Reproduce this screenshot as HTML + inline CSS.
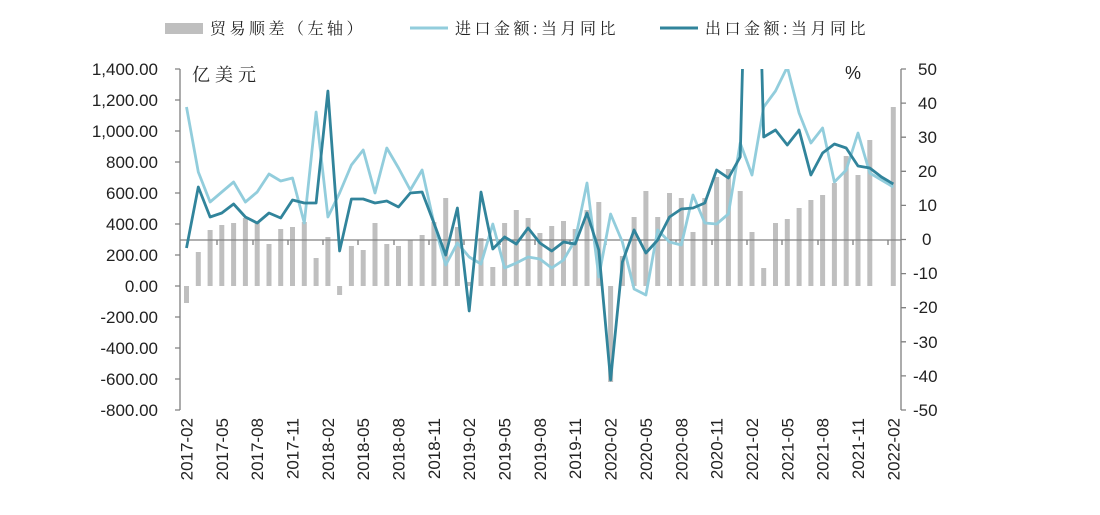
<!DOCTYPE html>
<html><head><meta charset="utf-8"><style>
body{margin:0;background:#fff;}
svg{display:block;font-family:"Liberation Sans","Noto Sans CJK SC",sans-serif;}
.cj{font-family:"Liberation Sans","Noto Serif CJK SC",serif;}
</style></head><body>
<svg width="1100" height="515" viewBox="0 0 1100 515">
<defs><clipPath id="c"><rect x="180" y="69" width="721" height="341"/></clipPath></defs>
<!-- legend -->
<rect x="165" y="23" width="38" height="11" fill="#bfbfbf"/>
<text class="cj" x="210" y="34" font-size="16" letter-spacing="3.5" fill="#222">贸易顺差（左轴）</text>
<line x1="410" y1="28" x2="448" y2="28" stroke="#92cddc" stroke-width="3"/>
<text class="cj" x="455" y="34" font-size="16" letter-spacing="3.5" fill="#222">进口金额:当月同比</text>
<line x1="660" y1="28" x2="698" y2="28" stroke="#31849b" stroke-width="3"/>
<text class="cj" x="705" y="34" font-size="16" letter-spacing="3.5" fill="#222">出口金额:当月同比</text>
<text class="cj" x="192" y="81" font-size="18" letter-spacing="5" fill="#222">亿美元</text>
<text x="845" y="79" font-size="18" fill="#222">%</text>
<!-- bars -->
<g fill="#bfbfbf">
<rect x="184" y="286" width="5" height="17"/><rect x="195.8" y="252" width="5" height="34"/><rect x="207.6" y="230" width="5" height="56"/><rect x="219.3" y="225" width="5" height="61"/><rect x="231.1" y="223" width="5" height="63"/><rect x="242.9" y="218" width="5" height="68"/><rect x="254.7" y="223" width="5" height="63"/><rect x="266.5" y="244" width="5" height="42"/><rect x="278.2" y="229" width="5" height="57"/><rect x="290" y="227" width="5" height="59"/><rect x="301.8" y="222" width="5" height="64"/><rect x="313.6" y="258" width="5" height="28"/><rect x="325.4" y="237" width="5" height="49"/><rect x="337.1" y="286" width="5" height="9"/><rect x="348.9" y="246" width="5" height="40"/><rect x="360.7" y="250" width="5" height="36"/><rect x="372.5" y="223" width="5" height="63"/><rect x="384.3" y="244" width="5" height="42"/><rect x="396" y="246" width="5" height="40"/><rect x="407.8" y="240" width="5" height="46"/><rect x="419.6" y="235" width="5" height="51"/><rect x="431.4" y="222" width="5" height="64"/><rect x="443.2" y="198" width="5" height="88"/><rect x="454.9" y="227" width="5" height="59"/><rect x="466.7" y="282" width="5" height="4"/><rect x="478.5" y="238" width="5" height="48"/><rect x="490.3" y="267" width="5" height="19"/><rect x="502.1" y="223" width="5" height="63"/><rect x="513.8" y="210" width="5" height="76"/><rect x="525.6" y="218" width="5" height="68"/><rect x="537.4" y="233" width="5" height="53"/><rect x="549.2" y="226" width="5" height="60"/><rect x="561" y="221" width="5" height="65"/><rect x="572.7" y="229" width="5" height="57"/><rect x="584.5" y="210" width="5" height="76"/><rect x="596.3" y="202" width="5" height="84"/><rect x="608.1" y="286" width="5" height="96"/><rect x="619.9" y="256" width="5" height="30"/><rect x="631.6" y="217" width="5" height="69"/><rect x="643.4" y="191" width="5" height="95"/><rect x="655.2" y="217" width="5" height="69"/><rect x="667" y="193" width="5" height="93"/><rect x="678.8" y="198" width="5" height="88"/><rect x="690.5" y="232" width="5" height="54"/><rect x="702.3" y="198" width="5" height="88"/><rect x="714.1" y="177" width="5" height="109"/><rect x="725.9" y="169" width="5" height="117"/><rect x="737.7" y="191" width="5" height="95"/><rect x="749.5" y="232" width="5" height="54"/><rect x="761.2" y="268" width="5" height="18"/><rect x="773" y="223" width="5" height="63"/><rect x="784.8" y="219" width="5" height="67"/><rect x="796.6" y="208" width="5" height="78"/><rect x="808.4" y="200" width="5" height="86"/><rect x="820.1" y="195" width="5" height="91"/><rect x="831.9" y="183" width="5" height="103"/><rect x="843.7" y="156" width="5" height="130"/><rect x="855.5" y="175" width="5" height="111"/><rect x="867.3" y="140" width="5" height="146"/><rect x="890.8" y="107" width="5" height="179"/>
</g>
<!-- axes -->
<g stroke="#808080" stroke-width="1.3" fill="none">
<line x1="180" y1="69" x2="180" y2="410"/>
<line x1="901" y1="69" x2="901" y2="410"/>
<line x1="180" y1="240" x2="901" y2="240"/>
<path d="M175 69H180M175 100H180M175 131H180M175 162H180M175 193H180M175 224H180M175 255H180M175 286H180M175 317H180M175 348H180M175 379H180M175 410H180"/>
<path d="M901 69H906M901 103.1H906M901 137.2H906M901 171.3H906M901 205.4H906M901 239.5H906M901 273.6H906M901 307.7H906M901 341.8H906M901 375.9H906M901 410H906"/>
<path d="M217 240V245M253 240V245M288 240V245M323 240V245M358 240V245M394 240V245M429 240V245M464 240V245M500 240V245M535 240V245M570 240V245M606 240V245M641 240V245M676 240V245M712 240V245M747 240V245M782 240V245M818 240V245M853 240V245M888 240V245"/>
</g>
<!-- lines -->
<g clip-path="url(#c)" fill="none" stroke-width="2.8" stroke-linejoin="round">
<polyline stroke="#92cddc" points="186.5,107 198.3,172 210.1,202 221.8,192 233.6,182 245.4,202 257.2,192 269,174 280.7,181 292.5,178 304.3,223 316.1,112 327.9,217 339.6,193 351.4,165 363.2,150 375,193 386.8,148 398.5,168 410.3,190 422.1,170 433.9,223 445.7,265 457.4,243 469.2,257 481,264 492.8,224 504.6,268 516.3,263 528.1,257 539.9,259 551.7,268 563.5,260 575.2,240 587,183 598.8,277 610.6,214 622.4,242 634.1,289 645.9,295 657.7,230 669.5,242 681.3,245 693,195 704.8,223 716.6,224 728.4,214 740.2,143 752,175 763.7,107 775.5,91 787.3,67 799.1,113 810.9,143 822.6,128 834.4,182 846.2,170 858,133 869.8,173 881.5,180 893.3,187"/>
<polyline stroke="#31849b" points="186.5,248 198.3,187 210.1,217 221.8,213 233.6,204 245.4,217 257.2,223 269,213 280.7,218 292.5,200 304.3,203 316.1,203 327.9,91 339.6,251 351.4,199 363.2,199 375,203 386.8,201 398.5,207 410.3,193 422.1,192 433.9,223 445.7,255 457.4,208 469.2,311 481,192 492.8,249 504.6,237 516.3,244 528.1,228 539.9,243 551.7,251 563.5,242 575.2,244 587,213 598.8,250 610.6,380 622.4,262 634.1,230 645.9,253 657.7,240 669.5,217 681.3,209 693,208 704.8,203 716.6,170 728.4,178 740.2,157 752,-300 763.7,137 775.5,130 787.3,145 799.1,130 810.9,175 822.6,153 834.4,144 846.2,148 858,166 869.8,168 881.5,177 893.3,184"/>
</g>
<!-- left labels -->
<g font-size="17" fill="#222" text-anchor="end">
<text x="158" y="75">1,400.00</text><text x="158" y="106">1,200.00</text><text x="158" y="137">1,000.00</text><text x="158" y="168">800.00</text><text x="158" y="199">600.00</text><text x="158" y="230">400.00</text><text x="158" y="261">200.00</text><text x="158" y="292">0.00</text><text x="158" y="323">-200.00</text><text x="158" y="354">-400.00</text><text x="158" y="385">-600.00</text><text x="158" y="416">-800.00</text>
</g>
<g font-size="17" fill="#222">
<text x="918" y="75">50</text><text x="918" y="109">40</text><text x="918" y="143">30</text><text x="918" y="177">20</text><text x="918" y="211">10</text><text x="922" y="245">0</text><text x="913" y="279">-10</text><text x="913" y="313">-20</text><text x="913" y="348">-30</text><text x="913" y="382">-40</text><text x="913" y="416">-50</text>
</g>
<!-- x labels -->
<g font-size="17" fill="#222" text-anchor="end">
<text transform="translate(192.5,418) rotate(-90)">2017-02</text>
<text transform="translate(227.8,418) rotate(-90)">2017-05</text>
<text transform="translate(263.2,418) rotate(-90)">2017-08</text>
<text transform="translate(298.5,418) rotate(-90)">2017-11</text>
<text transform="translate(333.9,418) rotate(-90)">2018-02</text>
<text transform="translate(369.2,418) rotate(-90)">2018-05</text>
<text transform="translate(404.5,418) rotate(-90)">2018-08</text>
<text transform="translate(439.9,418) rotate(-90)">2018-11</text>
<text transform="translate(475.2,418) rotate(-90)">2019-02</text>
<text transform="translate(510.6,418) rotate(-90)">2019-05</text>
<text transform="translate(545.9,418) rotate(-90)">2019-08</text>
<text transform="translate(581.2,418) rotate(-90)">2019-11</text>
<text transform="translate(616.6,418) rotate(-90)">2020-02</text>
<text transform="translate(651.9,418) rotate(-90)">2020-05</text>
<text transform="translate(687.3,418) rotate(-90)">2020-08</text>
<text transform="translate(722.6,418) rotate(-90)">2020-11</text>
<text transform="translate(758,418) rotate(-90)">2021-02</text>
<text transform="translate(793.3,418) rotate(-90)">2021-05</text>
<text transform="translate(828.6,418) rotate(-90)">2021-08</text>
<text transform="translate(864,418) rotate(-90)">2021-11</text>
<text transform="translate(899.3,418) rotate(-90)">2022-02</text>
</g>
</svg>
</body></html>
